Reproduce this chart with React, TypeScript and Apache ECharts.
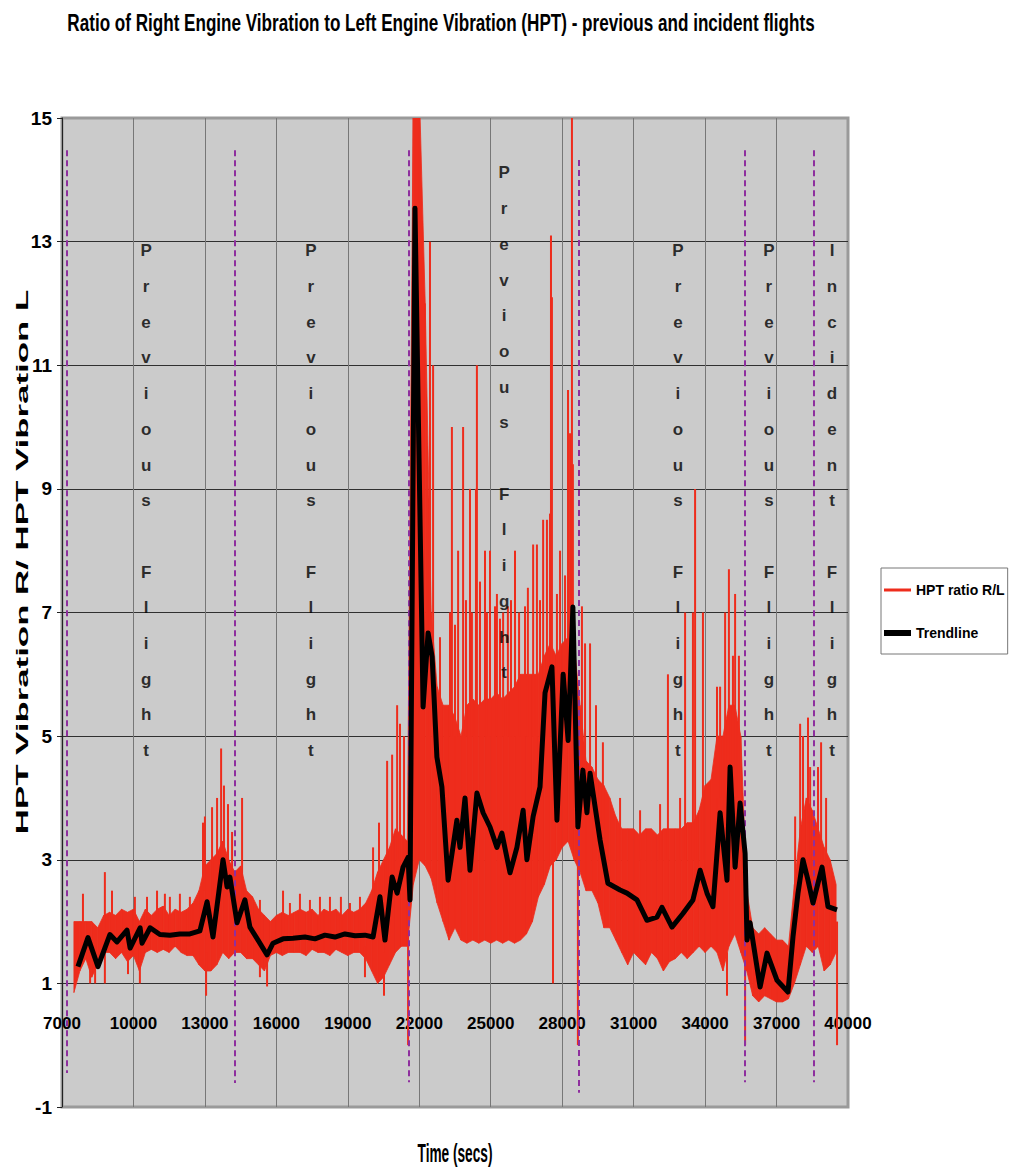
import React, { useEffect, useRef } from 'react';
import * as echarts from 'echarts';

// ---------- DATA ----------
const titleText = 'Ratio of Right Engine Vibration to Left Engine Vibration (HPT) - previous and incident flights';
const yAxisTitle = 'HPT Vibration R/ HPT Vibration L';
const xAxisTitle = 'Time (secs)';
const seriesNames = ['HPT ratio R/L', 'Trendline'];

// dense red trace: body of the noise band, sampled every 250 s from 7500 s
const redStart = 7500;
const redStep = 250;
const redUpper = [
  2.0, 2.0, 2.0, 2.0, 1.9, 2.1, 2.15, 2.1, 2.2, 2.15,
  2.2, 2.0, 2.2, 2.1, 2.2, 2.25, 2.1, 2.2, 2.15, 2.2,
  2.3, 2.5, 2.9, 3.0, 3.1, 3.3, 3.0, 2.8, 2.9, 2.5,
  2.4, 2.2, 2.1, 2.0, 2.1, 2.15, 2.1, 2.15, 2.2, 2.15,
  2.2, 2.1, 2.2, 2.15, 2.2, 2.1, 2.2, 2.15, 2.2, 2.3,
  2.5, 2.8, 3.0, 3.2, 3.5, 3.4, 3.3, 15.5, 15.5, 12.0,
  7.0, 5.8, 5.5, 5.5, 5.3, 5.0, 5.5, 5.6, 5.5, 5.6,
  5.6, 5.7, 5.6, 5.7, 5.8, 6.0, 6.0, 6.0, 6.0, 6.3,
  6.5, 6.3, 6.5, 6.6, 6.5, 5.5, 4.6, 4.5, 4.3, 4.2,
  4.0, 3.7, 3.5, 3.5, 3.5, 3.4, 3.5, 3.5, 3.4, 3.5,
  3.5, 3.5, 3.5, 3.6, 3.6, 3.8, 4.2, 4.3, 5.0, 5.0,
  5.5, 5.5, 5.0, 2.5, 1.9, 1.8, 1.9, 1.8, 1.7, 1.7,
  1.6, 2.6, 3.5, 4.0, 3.8, 3.5, 3.2, 3.0, 2.6,
];
const redLower = [
  0.85, 1.2, 1.4, 1.1, 1.3, 1.5, 1.5, 1.4, 1.5, 1.35,
  1.45, 1.2, 1.5, 1.55, 1.5, 1.55, 1.5, 1.6, 1.5, 1.45,
  1.45, 1.3, 1.2, 1.2, 1.3, 1.5, 1.4, 1.5, 1.5, 1.4,
  1.4, 1.3, 1.2, 1.45, 1.5, 1.45, 1.5, 1.5, 1.5, 1.45,
  1.55, 1.5, 1.5, 1.45, 1.55, 1.5, 1.45, 1.5, 1.5, 1.4,
  1.2, 1.0, 1.1, 1.3, 1.5, 1.6, 1.6, 2.6, 3.0, 2.9,
  2.7, 2.3, 2.0, 1.7, 1.9, 1.7, 1.65, 1.7, 1.65, 1.7,
  1.65, 1.7, 1.65, 1.7, 1.65, 1.7, 1.8, 2.0, 2.4, 2.6,
  2.9, 3.0, 3.2, 3.3, 3.0, 2.8, 2.5, 2.5, 2.3, 1.9,
  1.9, 1.7, 1.5, 1.3, 1.5, 1.4, 1.3, 1.5, 1.4, 1.2,
  1.35, 1.4, 1.5, 1.4, 1.5, 1.6, 1.5, 1.6, 1.5, 1.2,
  1.6, 1.8, 1.5, 1.2, 0.8, 0.7, 0.8, 0.75, 0.7, 0.7,
  0.75, 1.0, 1.3, 1.6, 1.5, 1.6, 1.2, 1.3, 1.5,
];

// individual spikes of the red trace (time, bottom value, top value)
const spikeTimes = [
  7880, 8180, 8390, 8800, 9100, 9770, 10060, 10270, 10570, 10990,
  11320, 11530, 11950, 12370, 12920, 13000, 13050, 13300, 13510, 13680,
  13800, 13970, 14140, 14560, 15310, 15610, 16280, 16570, 16990, 17410,
  17830, 18250, 18710, 19090, 19510, 19720, 20060, 20310, 20520, 20650,
  20860, 21070, 21190, 21360, 21530, 22450, 22580, 22870, 23290, 23370,
  23500, 23630, 23840, 23960, 24130, 24210, 24380, 24420, 24550, 24760,
  24840, 24970, 25180, 25260, 25390, 25520, 25720, 25850, 26020, 26190,
  26440, 26560, 26780, 26940, 27070, 27200, 27360, 27490, 27530, 27570,
  27615, 27780, 27910, 28120, 28245, 28330, 28410, 28450, 28660, 28830,
  28960, 29170, 29420, 29710, 30430, 31270, 32110, 32440, 32950, 33160,
  33490, 33580, 33910, 34500, 34630, 34840, 34920, 35000, 35170, 35260,
  35420, 35680, 37780, 37990, 38110, 38320, 38410, 38740, 38870, 39080,
  39540,
];
const spikeBottoms = [
  1.5, 1.0, 1.0, 1.0, 1.8, 1.15, 1.8, 1.0, 1.8, 1.8,
  1.8, 1.8, 1.8, 1.8, 2.0, 2.5, 0.8, 2.5, 2.5, 2.5,
  2.5, 2.5, 2.2, 2.2, 1.1, 0.95, 1.8, 1.8, 1.8, 1.8,
  1.8, 1.8, 1.8, 1.8, 1.8, 1.1, 2.0, 2.0, 0.8, 2.5,
  2.5, 3.0, 3.0, 3.0, 0.0, 5.0, 5.0, 5.0, 5.0, 5.0,
  5.0, 5.0, 5.0, 5.0, 5.0, 5.0, 5.0, 5.0, 5.0, 5.0,
  5.0, 5.0, 5.0, 5.0, 5.0, 5.0, 5.0, 5.0, 5.0, 5.0,
  5.0, 5.0, 5.0, 5.0, 5.0, 5.0, 5.0, 5.0, 5.0, 5.0,
  1.0, 5.0, 5.0, 5.0, 5.0, 5.0, 5.0, 5.0, 0.0, 4.0,
  4.0, 4.0, 4.0, 3.5, 3.0, 3.0, 3.0, 3.0, 3.0, 3.0,
  3.0, 3.0, 3.0, 4.0, 4.0, 4.0, 0.8, 4.0, 4.0, 4.0,
  4.0, 0.0, 1.5, 2.5, 2.5, 2.5, 2.5, 2.5, 2.5, 2.5,
  0.0,
];
const spikeTops = [
  2.45, 1.5, 1.6, 2.8, 2.5, 1.6, 2.4, 1.6, 2.4, 2.5,
  2.45, 2.4, 2.45, 2.4, 3.6, 3.7, 1.5, 3.85, 4.0, 4.8,
  4.2, 3.9, 3.45, 4.0, 2.35, 1.6, 2.5, 2.3, 2.45, 2.35,
  2.4, 2.4, 2.4, 2.3, 2.4, 1.6, 3.2, 3.6, 1.5, 4.6,
  4.7, 5.5, 5.2, 5.0, 3.0, 13.0, 11.0, 6.6, 7.0, 10.0,
  6.8, 8.0, 10.0, 7.2, 9.0, 7.0, 9.0, 11.0, 7.5, 8.0,
  7.0, 8.0, 7.1, 7.3, 6.9, 7.0, 7.1, 7.2, 8.0, 7.0,
  7.1, 7.4, 8.1, 8.1, 7.2, 8.5, 8.5, 8.6, 13.1, 12.1,
  3.5, 7.3, 8.0, 7.6, 10.6, 9.9, 15.5, 9.4, 3.0, 7.1,
  6.5, 6.5, 5.5, 4.9, 4.0, 3.8, 3.9, 6.0, 4.0, 7.0,
  7.0, 9.0, 7.0, 5.8, 5.8, 7.0, 1.5, 7.7, 6.3, 7.3,
  6.3, 2.0, 3.7, 5.2, 5.0, 5.3, 4.5, 4.5, 4.9, 4.0,
  2.0,
];

// trendline
const trendTimes = [
  7670, 8090, 8510, 9010, 9310, 9730, 9860, 10280, 10360, 10700,
  11110, 11530, 11950, 12370, 12790, 13090, 13340, 13760, 13930, 14050,
  14350, 14680, 14890, 15230, 15610, 15860, 16280, 16700, 17200, 17620,
  18040, 18460, 18880, 19300, 19720, 20060, 20350, 20560, 20860, 21070,
  21320, 21530, 21610, 21820, 21990, 22160, 22370, 22540, 22740, 22950,
  23210, 23580, 23710, 23920, 24130, 24420, 24680, 24970, 25260, 25470,
  25810, 26100, 26360, 26520, 26780, 27070, 27280, 27570, 27780, 28040,
  28250, 28450, 28660, 28870, 29040, 29170, 29590, 29920, 30430, 30720,
  31140, 31560, 31980, 32190, 32610, 33070, 33490, 33790, 34080, 34330,
  34630, 34920, 35050, 35260, 35470, 35680, 35760, 35890, 36310, 36600,
  37020, 37480, 37690, 37900, 38110, 38320, 38530, 38910, 39160, 39540,
];
const trendValues = [
  1.27, 1.74, 1.27, 1.79, 1.67, 1.86, 1.57, 1.9, 1.65, 1.9,
  1.79, 1.78, 1.8, 1.8, 1.85, 2.32, 1.75, 3.0, 2.56, 2.72,
  1.98, 2.35, 1.91, 1.7, 1.46, 1.65, 1.72, 1.73, 1.75, 1.72,
  1.78, 1.75, 1.8, 1.77, 1.78, 1.75, 2.4, 1.7, 2.72, 2.46,
  2.88, 3.04, 2.35, 13.54, 9.5, 5.47, 6.67, 6.28, 4.66, 4.18,
  2.67, 3.64, 3.2, 4.0, 2.83, 4.08, 3.76, 3.53, 3.2, 3.43,
  2.79, 3.2, 3.8, 3.0, 3.7, 4.18, 5.7, 6.12, 3.64, 6.0,
  4.93, 7.09, 3.53, 4.45, 3.76, 4.4, 3.32, 2.62, 2.51, 2.46,
  2.35, 2.02, 2.07, 2.23, 1.91, 2.13, 2.35, 2.83, 2.46, 2.24,
  3.76, 2.67, 4.5, 2.88, 3.92, 3.1, 1.7, 1.98, 0.94, 1.49,
  1.05, 0.86, 1.75, 2.46, 3.0, 2.67, 2.3, 2.88, 2.24, 2.19,
];

// purple dashed flight separators
const flightLineTimes = [7200, 14260, 21550, 28690, 35680, 38570];
const flightLineTops = [14.48, 14.48, 14.48, 14.32, 14.48, 14.48];
const flightLineBottoms = [-0.45, -0.61, -0.6, -0.77, -0.6, -0.6];

// vertical annotations
const annotationTexts = ['Previous Flight', 'Previous Flight', 'Previous Flight', 'Previous Flight', 'Previous Flight', 'Incident Flight'];
const annotationTimes = [10530, 17450, 25560, 32860, 36680, 39330];
const annotationTops = [13.14, 13.14, 14.4, 13.14, 13.14, 13.14];

// axes
const xMin = 7000, xMax = 40000, xInterval = 3000;
const yMin = -1, yMax = 15, yInterval = 2;

// ---------- STYLE ----------
const RED = '#ee2c1c';
const PURPLE = '#8e2f9e';
const SANS = '"Liberation Sans", Arial, sans-serif';

function measure(text: string, font: string): number {
  const c = document.createElement('canvas').getContext('2d');
  if (!c) return text.length * 10;
  c.font = font;
  return c.measureText(text).width || text.length * 10;
}

export default function App() {
  const ref = useRef<HTMLDivElement>(null);
  useEffect(() => {
    if (!ref.current) return;
    const chart = echarts.init(ref.current, null, { renderer: 'svg' });

    const bandTimes = redUpper.map((_, i) => redStart + i * redStep);
    const bandSegments = bandTimes.slice(0, -1).map((t, i) => [
      t, redLower[i], redUpper[i], bandTimes[i + 1], redLower[i + 1], redUpper[i + 1],
    ]);
    const titleFont = 'bold 24px "Liberation Sans", Arial, sans-serif';
    const yNameFont = 'bold 28px "Liberation Sans", Arial, sans-serif';
    const xNameFont = 'bold 25px "Liberation Sans", Arial, sans-serif';

    const option: any = {
      animation: false,
      backgroundColor: '#ffffff',
      grid: {
        left: 62, right: 167, top: 118, bottom: 66,
        show: true, backgroundColor: '#cbcbcb', borderColor: '#9a9a9a', borderWidth: 3,
      },
      legend: {
        orient: 'vertical', left: 881, top: 568,
        padding: [11, 3, 10, 3],
        itemGap: 21, itemWidth: 27, itemHeight: 8,
        backgroundColor: '#ffffff', borderColor: '#777777', borderWidth: 1,
        selectedMode: false,
        textStyle: { fontFamily: SANS, fontWeight: 'bold', fontSize: 14, color: '#000', lineHeight: 22 },
        data: [
          { name: seriesNames[0], icon: 'path://M0,0H27V3H0Z', itemStyle: { color: RED } },
          { name: seriesNames[1], icon: 'path://M0,0H27V6H0Z', itemStyle: { color: '#000' } },
        ],
      },
      xAxis: {
        type: 'value', min: xMin, max: xMax, interval: xInterval,
        axisLine: { show: false, onZero: false },
        axisTick: { show: false },
        axisLabel: {
          margin: -92, color: '#000', fontFamily: SANS, fontWeight: 'bold', fontSize: 17,
          showMinLabel: true, showMaxLabel: true, formatter: (v: number) => String(v),
        },
        splitLine: { show: true, showMinLine: false, showMaxLine: false, lineStyle: { color: '#777777', width: 1 } },
      },
      yAxis: {
        type: 'value', min: yMin, max: yMax, interval: yInterval,
        axisLine: { show: true, onZero: false, lineStyle: { color: '#222', width: 1 } },
        axisTick: { show: true, length: 5, lineStyle: { color: '#222' } },
        axisLabel: { margin: 10, color: '#000', fontFamily: SANS, fontWeight: 'bold', fontSize: 19, formatter: (v: number) => String(v) },
        splitLine: { show: true, showMinLine: false, showMaxLine: false, lineStyle: { color: '#303030', width: 1 } },
      },
      graphic: [
        {
          type: 'text', x: 441, y: 22, scaleX: 747 / measure(titleText, titleFont),
          style: { text: titleText, font: titleFont, fill: '#000', textAlign: 'center', textVerticalAlign: 'middle', align: 'center', verticalAlign: 'middle' },
        },
        {
          type: 'text', x: 22, y: 562, rotation: Math.PI / 2,
          scaleX: 545 / measure(yAxisTitle, yNameFont), scaleY: 0.62,
          style: { text: yAxisTitle, font: yNameFont, fill: '#000', textAlign: 'center', textVerticalAlign: 'middle', align: 'center', verticalAlign: 'middle' },
        },
        {
          type: 'text', x: 455, y: 1153, scaleX: 75 / measure(xAxisTitle, xNameFont),
          style: { text: xAxisTitle, font: xNameFont, fill: '#000', textAlign: 'center', textVerticalAlign: 'middle', align: 'center', verticalAlign: 'middle' },
        },
      ],
      series: [
        {
          name: seriesNames[0], type: 'custom', clip: true, silent: true, z: 2,
          encode: { x: [0, 3], y: [1, 2, 4, 5] },
          data: bandSegments,
          renderItem: (params: any, api: any) => {
            const a = api.coord([api.value(0), api.value(1)]);
            const b = api.coord([api.value(3), api.value(4)]);
            const c = api.coord([api.value(3), api.value(5)]);
            const d = api.coord([api.value(0), api.value(2)]);
            return { type: 'polygon', shape: { points: [a, b, c, d] }, style: { fill: RED, stroke: RED, lineWidth: 0.8 } };
          },
        },
        {
          name: seriesNames[0], type: 'custom', clip: true, silent: true, z: 3,
          encode: { x: 0, y: [1, 2] },
          data: spikeTimes.map((t, i) => [t, spikeBottoms[i], spikeTops[i]]),
          renderItem: (params: any, api: any) => {
            const p1 = api.coord([api.value(0), api.value(1)]);
            const p2 = api.coord([api.value(0), api.value(2)]);
            return { type: 'line', shape: { x1: p1[0], y1: p1[1], x2: p2[0], y2: p2[1] }, style: { stroke: RED, lineWidth: 2 } };
          },
        },
        {
          name: 'flight-separators', type: 'line', data: [], z: 4, silent: true,
          markLine: {
            silent: true, symbol: ['none', 'none'], animation: false,
            label: { show: false },
            lineStyle: { color: PURPLE, width: 2, type: [6, 4] },
            data: flightLineTimes.map((t, i) => [{ coord: [t, flightLineTops[i]] }, { coord: [t, flightLineBottoms[i]] }]),
          },
        },
        {
          name: seriesNames[1], type: 'line', symbol: 'none', silent: true, z: 5,
          lineStyle: { color: '#000', width: 5, join: 'round' },
          data: trendTimes.map((t, i) => [t, trendValues[i]]),
        },
        {
          name: 'annotations', type: 'scatter', symbolSize: 0.1, silent: true, z: 6,
          itemStyle: { color: 'transparent' },
          label: {
            show: true, position: 'bottom', distance: 0,
            formatter: (p: any) => p.name,
            color: '#000', fontFamily: SANS, fontWeight: 'bold', fontSize: 17, lineHeight: 35.7, align: 'center',
          },
          data: annotationTexts.map((txt, i) => ({ name: txt.split('').join('\n'), value: [annotationTimes[i], annotationTops[i]] })),
        },
      ],
    };
    chart.setOption(option);
    return () => chart.dispose();
  }, []);
  return <div ref={ref} style={{ position: 'absolute', left: 0, top: 0, width: 1015, height: 1173 }} />;
}
